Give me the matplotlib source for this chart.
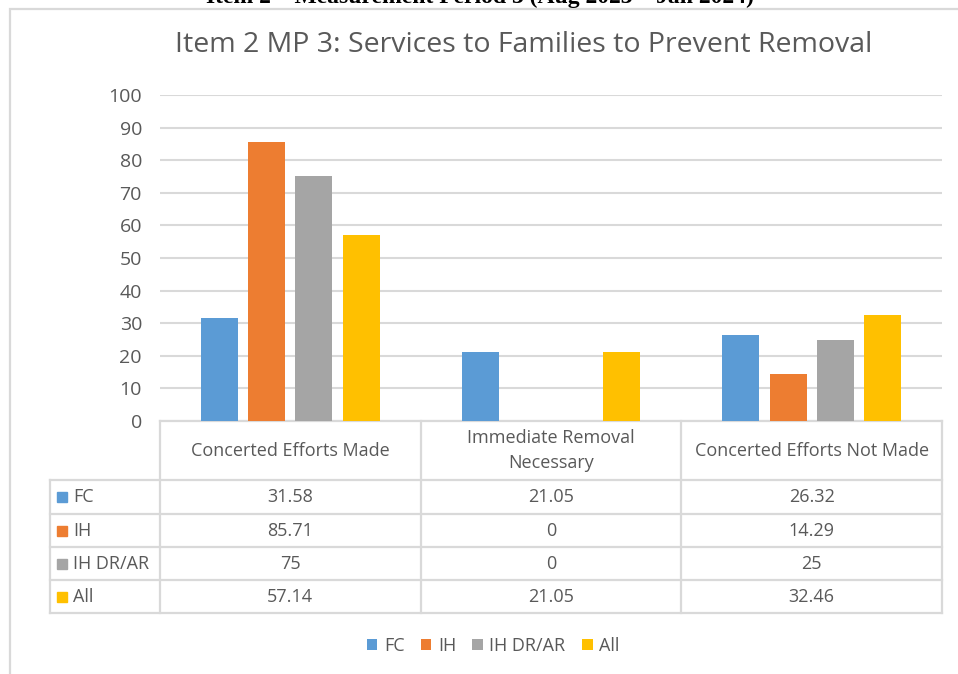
import matplotlib.pyplot as plt
from matplotlib.patches import Rectangle

categories = ["Concerted Efforts Made", "Immediate Removal\nNecessary", "Concerted Efforts Not Made"]
series = ["FC", "IH", "IH DR/AR", "All"]
fc = [31.58, 21.05, 26.32]
ih = [85.71, 0, 14.29]
ih_drar = [75, 0, 25]
all_ = [57.14, 21.05, 32.46]
values = [fc, ih, ih_drar, all_]
colors = ["#5B9BD5", "#ED7D31", "#A5A5A5", "#FFC000"]
yticks = [0, 10, 20, 30, 40, 50, 60, 70, 80, 90, 100]

W, H = 958, 674
fig = plt.figure(figsize=(W / 100, H / 100), dpi=100)
plt.rcParams['font.family'] = ['Open Sans', 'DejaVu Sans']
txt = "#595959"
grid = "#D9D9D9"

# chart frame (cut off at the right and bottom)
fig.patches.append(Rectangle((10 / W, -0.1), 1.2, 1 - 9 / H + 0.1, transform=fig.transFigure,
                             fill=False, edgecolor=grid, linewidth=1.6))

# caption above the chart, cropped in the original screenshot
fig.text(480 / W, 1 - 3 / H, "Item 2 \u2013 Measurement Period 3 (Aug 2023 \u2013 Jan 2024)",
         family="Liberation Serif", weight="bold", fontsize=17, ha="center", va="baseline")

fig.text(524 / W, 1 - 45 / H, "Item 2 MP 3: Services to Families to Prevent Removal",
         fontsize=20.5, color=txt, ha="center", va="center")

ax = fig.add_axes([160 / W, 1 - 421 / H, 782 / W, 326 / H])
bw = 0.142
step = 0.181
x = list(range(len(categories)))
bars = []
for i, (s, v, c) in enumerate(zip(series, values, colors)):
    off = (i - 1.5) * step
    b = ax.bar([k + off for k in x], v, width=bw, color=c, label=s, zorder=3)
    bars.append(b)

ax.set_xlim(-0.5, 2.5)
ax.set_ylim(0, 100)
ax.set_yticks(yticks)
ax.set_xticks([])
ax.tick_params(axis="y", length=0, pad=13, labelsize=14, labelcolor=txt)
for sp in ax.spines.values():
    sp.set_visible(False)
ax.grid(axis="y", color=grid, linewidth=1.5, zorder=0)

# data table below the plot
tr = ax.get_xaxis_transform()
lab_left = -0.5 - 110 / 260.7
row_y = [0, -0.181, -0.285, -0.387, -0.488, -0.589]
lc = "#D9D9D9"
lw = 1.6
ax.plot([-0.5, 2.5], [0, 0], color=lc, lw=lw, transform=tr, clip_on=False)
for yy in row_y[1:]:
    ax.plot([lab_left, 2.5], [yy, yy], color=lc, lw=lw, transform=tr, clip_on=False)
ax.plot([lab_left, lab_left], [row_y[1], row_y[-1]], color=lc, lw=lw, transform=tr, clip_on=False)
for xx in [-0.5, 0.5, 1.5, 2.5]:
    ax.plot([xx, xx], [0, row_y[-1]], color=lc, lw=lw, transform=tr, clip_on=False)

for k, cat in enumerate(categories):
    ax.text(k, (row_y[0] + row_y[1]) / 2, cat, transform=tr, ha="center", va="center",
            fontsize=13, color=txt, linespacing=1.45)
for i, (s, v, c) in enumerate(zip(series, values, colors)):
    ymid = (row_y[i + 1] + row_y[i + 2]) / 2
    ax.plot([lab_left + 0.045], [ymid], marker="s", markersize=7, color=c,
            transform=tr, clip_on=False, linestyle="none")
    ax.text(lab_left + 0.09, ymid, s, transform=tr, ha="left", va="center",
            fontsize=13, color=txt)
    for k, val in enumerate(v):
        ax.text(k, ymid, "{:g}".format(val), transform=tr, ha="center", va="center",
                fontsize=13, color=txt)

leg = fig.legend(handles=bars, labels=series, loc="center", bbox_to_anchor=(493 / W, 1 - 646 / H),
                 ncol=4, frameon=False, fontsize=13, handlelength=0.6, handleheight=0.6,
                 handletextpad=0.35, columnspacing=0.9)
for t in leg.get_texts():
    t.set_color(txt)

fig.savefig("out.png", dpi=100)
